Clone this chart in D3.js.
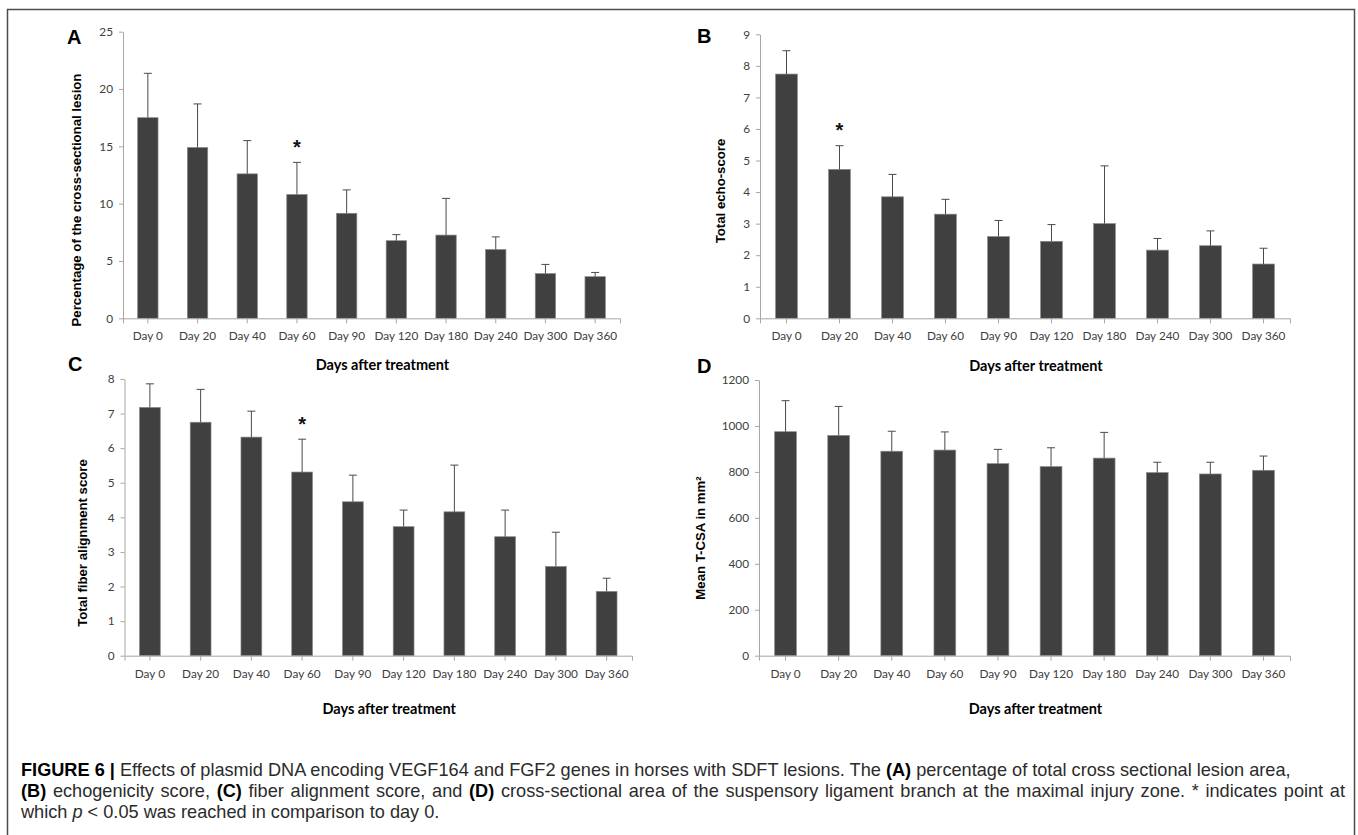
<!DOCTYPE html>
<html>
<head>
<meta charset="utf-8">
<script src="https://cdn.jsdelivr.net/npm/d3@7"></script>
<style>
	body { margin: 0; background: #fff; }
</style>
</head>
<body>
<svg id="fig" width="1358" height="835"></svg>
<script>
const days = ['Day 0', 'Day 20', 'Day 40', 'Day 60', 'Day 90', 'Day 120', 'Day 180', 'Day 240', 'Day 300', 'Day 360'];

// A: percentage of cross-sectional lesion
const lesionMean = [17.5, 14.9, 12.6, 10.8, 9.16, 6.77, 7.26, 6.0, 3.9, 3.63];
const lesionErr = [3.87, 3.8, 2.9, 2.8, 2.04, 0.53, 3.2, 1.1, 0.8, 0.37];
const lesionTicks = [0, 5, 10, 15, 20, 25];
const lesionStar = ['Day 60'];

// B: total echo-score
const echoMean = [7.74, 4.72, 3.85, 3.3, 2.59, 2.44, 3.0, 2.16, 2.3, 1.72];
const echoErr = [0.74, 0.75, 0.71, 0.47, 0.51, 0.53, 1.83, 0.37, 0.47, 0.5];
const echoTicks = [0, 1, 2, 3, 4, 5, 6, 7, 8, 9];
const echoStar = ['Day 20'];

// C: total fiber alignment score
const fiberMean = [7.18, 6.75, 6.32, 5.31, 4.45, 3.73, 4.16, 3.44, 2.58, 1.86];
const fiberErr = [0.68, 0.95, 0.75, 0.95, 0.77, 0.48, 1.35, 0.77, 0.99, 0.38];
const fiberTicks = [0, 1, 2, 3, 4, 5, 6, 7, 8];
const fiberStar = ['Day 60'];

// D: mean T-CSA
const csaMean = [975, 959, 890, 895, 836, 823, 860, 797, 791, 807];
const csaErr = [135, 126, 87, 79, 62, 82, 112, 45, 51, 62];
const csaTicks = [0, 200, 400, 600, 800, 1000, 1200];
const csaStar = [];

const xTitle = 'Days after treatment';

const svg = d3.select('#fig');
svg.append('rect').attr('width', 1358).attr('height', 835).attr('fill', '#fff');

// outer frame (runs off the bottom)
svg.append('path')
	.attr('d', 'M7.5,900V9.5H1354.5V900')
	.attr('fill', 'none')
	.attr('stroke', '#4d4d4d')
	.attr('stroke-width', 1.5);

function drawPanel(p) {
	let x = d3.scaleBand()
		.domain(days)
		.range([p.x0, p.x1])
		.paddingInner(0.59)
		.paddingOuter(0.295);

	let y = d3.scaleLinear()
		.domain([0, d3.max(p.ticks)])
		.range([p.base, p.top]);

	let rows = days.map((d, i) => ({ day: d, mean: p.mean[i], err: p.err[i] }));
	let g = svg.append('g');

	// bars
	g.selectAll('.bar')
		.data(rows)
		.enter()
		.append('rect')
		.attr('class', 'bar')
		.attr('x', (d) => x(d.day))
		.attr('width', x.bandwidth())
		.attr('y', (d) => y(d.mean))
		.attr('height', (d) => y(0) - y(d.mean))
		.attr('fill', '#404040')
		.attr('stroke', '#8a8a8a')
		.attr('stroke-width', 0.7);

	// error bars (upper only)
	let cx = (d) => x(d.day) + x.bandwidth() / 2;
	g.selectAll('.err')
		.data(rows)
		.enter()
		.append('path')
		.attr('class', 'err')
		.attr('d', (d) => `M${cx(d)},${y(d.mean)}V${y(d.mean + d.err)}M${cx(d) - 4},${y(d.mean + d.err)}H${cx(d) + 4}`)
		.attr('fill', 'none')
		.attr('stroke', '#4a4a4a')
		.attr('stroke-width', 1);

	// significance stars
	g.selectAll('.star')
		.data(rows.filter((d) => p.star.includes(d.day)))
		.enter()
		.append('text')
		.attr('x', cx)
		.attr('y', (d) => y(d.mean + d.err) - 21)
		.attr('dy', '0.62em')
		.attr('text-anchor', 'middle')
		.attr('font-family', 'Liberation Sans, Arial, sans-serif')
		.attr('font-weight', 'bold')
		.attr('font-size', 20)
		.attr('fill', '#111')
		.text('*');

	// axes
	let yAxis = g.append('g')
		.attr('transform', `translate(${p.x0},0)`)
		.call(d3.axisLeft(y).tickValues(p.ticks).tickFormat(d3.format('d')).tickSize(4).tickSizeOuter(0).tickPadding(6));

	let xAxis = g.append('g')
		.attr('transform', `translate(0,${p.base})`)
		.call(d3.axisBottom(x).tickSize(5).tickSizeOuter(5).tickPadding(8.5));

	[yAxis, xAxis].forEach((a) => {
		a.selectAll('path, line').attr('stroke', '#a6a6a6');
		a.selectAll('text')
			.attr('font-family', 'Lato, Liberation Sans, sans-serif')
			.attr('font-size', 11.8)
			.attr('fill', '#404040');
	});

	// panel letter
	g.append('text')
		.attr('x', p.lx)
		.attr('y', p.ly)
		.attr('dy', '0.36em')
		.attr('font-family', 'Liberation Sans, Arial, sans-serif')
		.attr('font-weight', 'bold')
		.attr('font-size', 20)
		.attr('fill', '#000')
		.text(p.letter);

	// y title
	g.append('text')
		.attr('transform', `translate(${p.ytx},${p.yty}) rotate(-90)`)
		.attr('text-anchor', 'middle')
		.attr('dominant-baseline', 'central')
		.attr('font-family', 'Liberation Sans, Arial, sans-serif')
		.attr('font-weight', 'bold')
		.attr('font-size', 13.2)
		.attr('fill', '#000')
		.text(p.ytitle);

	// x title
	g.append('text')
		.attr('x', (p.x0 + p.x1) / 2 + 11)
		.attr('y', p.xty)
		.attr('dominant-baseline', 'central')
		.attr('text-anchor', 'middle')
		.attr('font-family', 'Lato, Liberation Sans, sans-serif')
		.attr('font-weight', 'bold')
		.attr('font-size', 14.5)
		.attr('fill', '#000')
		.text(xTitle);
}

drawPanel({
	letter: 'A', mean: lesionMean, err: lesionErr, ticks: lesionTicks, star: lesionStar,
	x0: 123, x1: 620, top: 31.7, base: 318.3,
	lx: 67, ly: 37, ytx: 76, yty: 200, xty: 364,
	ytitle: 'Percentage of the cross-sectional lesion'
});
drawPanel({
	letter: 'B', mean: echoMean, err: echoErr, ticks: echoTicks, star: echoStar,
	x0: 760, x1: 1290, top: 34.3, base: 318.3,
	lx: 697, ly: 36, ytx: 720, yty: 191, xty: 365,
	ytitle: 'Total echo-score'
});
drawPanel({
	letter: 'C', mean: fiberMean, err: fiberErr, ticks: fiberTicks, star: fiberStar,
	x0: 124.5, x1: 632, top: 379, base: 655.7,
	lx: 68, ly: 364, ytx: 82, yty: 543, xty: 708,
	ytitle: 'Total fiber alignment score'
});
drawPanel({
	letter: 'D', mean: csaMean, err: csaErr, ticks: csaTicks, star: csaStar,
	x0: 759, x1: 1290, top: 380, base: 655.7,
	lx: 697, ly: 366, ytx: 700, yty: 538, xty: 708,
	ytitle: 'Mean T-CSA in mm²'
});

// caption
const captionLines = [
	[['b', 'FIGURE 6 |'], ['', ' Effects of plasmid DNA encoding VEGF164 and FGF2 genes in horses with SDFT lesions. The '], ['b', '(A)'], ['', ' percentage of total cross sectional lesion area,']],
	[['b', '(B)'], ['', ' echogenicity score, '], ['b', '(C)'], ['', ' fiber alignment score, and '], ['b', '(D)'], ['', ' cross-sectional area of the suspensory ligament branch at the maximal injury zone. * indicates point at']],
	[['', 'which '], ['i', 'p'], ['', ' < 0.05 was reached in comparison to day 0.']]
];
const captionWidths = [1270, 1324, null];

let cap = svg.append('g')
	.attr('font-family', 'Liberation Sans, Arial, sans-serif')
	.attr('fill', '#2b2b2b');

let capTexts = cap.selectAll('text')
	.data(captionLines)
	.enter()
	.append('text')
	.attr('x', 21)
	.attr('y', (d, i) => 776 + i * 21)
	.attr('font-size', 14);

capTexts.selectAll('tspan')
	.data((d) => d)
	.enter()
	.append('tspan')
	.attr('font-weight', (d) => d[0] === 'b' ? 'bold' : null)
	.attr('font-style', (d) => d[0] === 'i' ? 'italic' : null)
	.attr('fill', (d) => d[0] === 'b' ? '#000' : null)
	.text((d) => d[1]);

// fit first caption line to the width seen in the figure, stretch the second by word spacing
let nodes = capTexts.nodes();
let fs = 14 * captionWidths[0] / nodes[0].getComputedTextLength();
capTexts.attr('font-size', fs);
let w2 = nodes[1].getComputedTextLength();
let spaces = captionLines[1].map((s) => s[1]).join('').split(' ').length - 1;
d3.select(nodes[1]).attr('word-spacing', Math.max(0, (captionWidths[1] - w2) / spaces));
</script>
</body>
</html>
